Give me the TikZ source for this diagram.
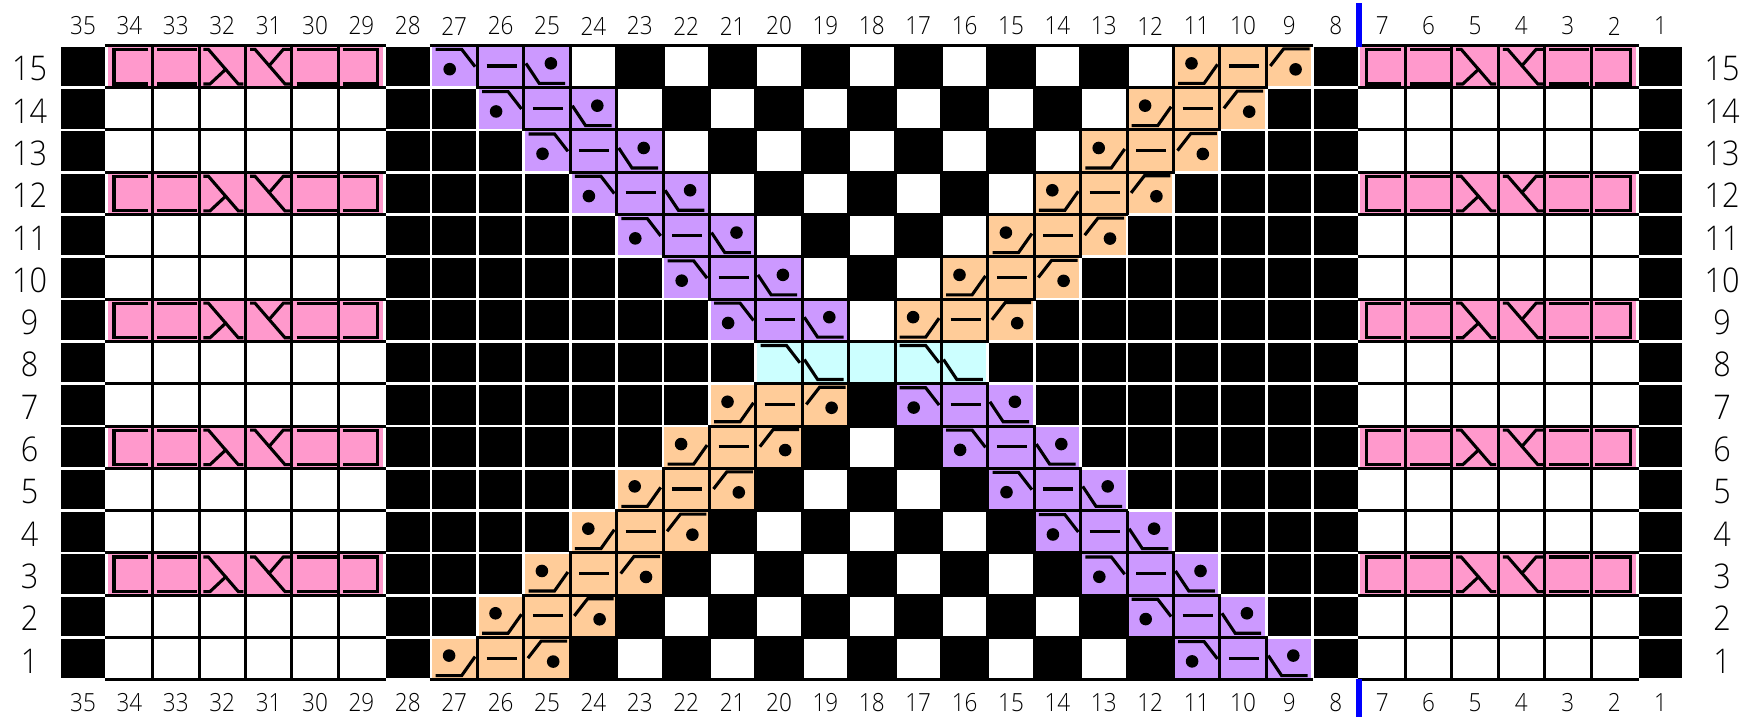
\documentclass[tikz,border=0pt]{standalone}
\usepackage{fontspec}
\setmainfont{Open Sans Light}[FakeStretch=0.9]
\definecolor{pinkc}{HTML}{FF99CC}
\definecolor{purplec}{HTML}{CC99FF}
\definecolor{orangec}{HTML}{FFCC99}
\definecolor{cyanc}{HTML}{CCFFFF}
\newcount\ctype \newcount\tc \newcount\tr
% cell kinds: 0 outer black, 1 white, 2 pink, 3 purple, 4 orange, 5 cyan, 6 black of the chequered centre
\def\inrange#1#2#3{\ifnum\tc<\numexpr#1\relax\else\ifnum\tc>\numexpr#2\relax\else#3\fi\fi}
\def\groupT{\ctype=1\relax\ifnum\numexpr3*(\tr/3)\relax=\tr\ctype=2\relax\fi}
\def\centerT{%
  \ifnum\tr>8
    \inrange{10+\tr}{12+\tr}{\ctype=3\relax}%
    \inrange{24-\tr}{26-\tr}{\ctype=4\relax}%
    \inrange{27-\tr}{9+\tr}{\ifodd\numexpr\tc+\tr\relax\ctype=1\relax\else\ctype=6\relax\fi}%
  \else\ifnum\tr=8
    \inrange{16}{20}{\ctype=5\relax}%
  \else
    \inrange{8+\tr}{10+\tr}{\ctype=3\relax}%
    \inrange{26-\tr}{28-\tr}{\ctype=4\relax}%
    \inrange{11+\tr}{25-\tr}{\ifodd\numexpr\tc+\tr\relax\ctype=6\relax\else\ctype=1\relax\fi}%
  \fi\fi}
\def\gettype#1#2{\tc=#1\relax\tr=#2\relax\ctype=0\relax
  \ifnum\tc>28 \ifnum\tc<35 \groupT\fi\fi
  \ifnum\tc>1 \ifnum\tc<8 \groupT\fi\fi
  \ifnum\tc>8 \ifnum\tc<28 \centerT\fi\fi}
\def\setcell#1#2{\pgfmathsetmacro\cx{61.2+(35-#1)*46.4}\pgfmathsetmacro\cy{-(46.67+(15-#2)*42.3)}}
\tikzset{
  x=1pt,y=1pt,
  sym/.style={line width=3.1pt,line cap=butt,line join=miter,black},
  gridline/.style={line width=3pt,black},
  toplabel/.style={font=\fontsize{25}{27}\selectfont,text=black,inner sep=0pt},
  rowlabel/.style={font=\fontsize{34}{36}\selectfont,text=black,inner sep=0pt},
  dotmark/.style={black},
  midbar/.pic={\draw[sym] (7.7,-19.3) -- (37.7,-19.3);},
  fallL/.pic={\draw[sym] (3.3,-2.7) -- (29.3,-2.7) -- (42.7,-20);},
  fallR/.pic={\draw[sym] (0.7,-16.7) -- (14,-36.7) -- (40,-36.7);},
  riseL/.pic={\draw[sym] (3.3,-36.7) -- (29.3,-36.7) -- (42.7,-17.7);},
  riseR/.pic={\draw[sym] (2.7,-19.3) -- (16,-2.2) -- (42,-2.2);},
  pinkA/.pic={\draw[sym] (40.7,-2.7) -- (6.4,-2.7) -- (6.4,-37.3) -- (40.7,-37.3);},
  pinkB/.pic={\draw[sym] (3.4,-2.7) -- (43.4,-2.7); \draw[sym] (3.4,-37.3) -- (43.4,-37.3);},
  pinkC/.pic={\draw[sym] (3,-2.7) -- (8,-2.7) -- (37.9,-37.3) -- (42.9,-37.3); \draw[sym] (3,-37.3) -- (9.6,-37.3) -- (26.3,-21.7);},
  pinkD/.pic={\draw[sym] (3.2,-2.7) -- (8.2,-2.7) -- (38.2,-37.3) -- (43.2,-37.3); \draw[sym] (43.2,-2.7) -- (36.5,-2.7) -- (21.5,-20);},
  pinkE/.pic={\draw[sym] (3,-2.7) -- (37.7,-2.7) -- (37.7,-37.3) -- (3,-37.3);},
}
\begin{document}
\begin{tikzpicture}
\useasboundingbox (0,0) rectangle (1746,-717);
\fill[white] (0,0) rectangle (1746,-717);
% cells
\foreach \c in {1,...,35}{\foreach \r in {1,...,15}{%
  \gettype{\c}{\r}\setcell{\c}{\r}%
  \ifcase\ctype
    \def\cc{black}\or\def\cc{white}\or\def\cc{pinkc}\or\def\cc{purplec}\or\def\cc{orangec}\or\def\cc{cyanc}\or\def\cc{black}\fi
  \fill[\cc] (\cx,\cy) rectangle ++(43.6,-39.6);
}}
% grid lines between two neighbouring cells that are not outer black
\foreach \c in {1,...,34}{\foreach \r in {1,...,15}{%
  \gettype{\c}{\r}\edef\ta{\the\ctype}%
  \pgfmathtruncatemacro\cn{\c+1}\gettype{\cn}{\r}\edef\tb{\the\ctype}%
  \setcell{\c}{\r}%
  \ifnum\ta>0 \ifnum\tb>0
    \draw[gridline] (\cx-1.4,\cy+1.35) -- (\cx-1.4,\cy-40.95);
  \fi\fi
}}
\foreach \c in {1,...,35}{\foreach \r in {2,...,15}{%
  \gettype{\c}{\r}\edef\ta{\the\ctype}%
  \pgfmathtruncatemacro\rn{\r-1}\gettype{\c}{\rn}\edef\tb{\the\ctype}%
  \setcell{\c}{\r}%
  \ifnum\ta>0 \ifnum\tb>0
    \draw[gridline] (\cx-2.8,\cy-40.95) -- (\cx+46.4,\cy-40.95);
  \fi\fi
}}
% outer top and bottom lines
\foreach \y in {-45.3,-679.85}{
  \draw[gridline] (104.8,\y) -- (386,\y);
  \draw[gridline] (429.6,\y) -- (1313.4,\y);
  \draw[gridline] (1357.6,\y) -- (1638.8,\y);
}
% diagonal bands, symbols
\foreach \c in {1,...,35}{\foreach \r in {1,...,15}{%
  \gettype{\c}{\r}\setcell{\c}{\r}%
  \ifnum\ctype=3
    \ifnum\r>8 \pgfmathtruncatemacro\p{\c-10-\r}\else\pgfmathtruncatemacro\p{\c-8-\r}\fi
    \ifcase\p
      \pic at (\cx,\cy) {fallR}; \fill[dotmark] (\cx+25.7,\cy-16.7) circle (6.3);
    \or \pic at (\cx,\cy) {midbar};
    \or \pic at (\cx,\cy) {fallL}; \fill[dotmark] (\cx+17.3,\cy-22.5) circle (6.3);
    \fi
  \fi
  \ifnum\ctype=4
    \ifnum\r>8 \pgfmathtruncatemacro\p{\c-24+\r}\else\pgfmathtruncatemacro\p{\c-26+\r}\fi
    \ifcase\p
      \pic at (\cx,\cy) {riseR}; \fill[dotmark] (\cx+28,\cy-22.7) circle (6.3);
    \or \pic at (\cx,\cy) {midbar};
    \or \pic at (\cx,\cy) {riseL}; \fill[dotmark] (\cx+16.7,\cy-16.7) circle (6.3);
    \fi
  \fi
}}
% centre row
\setcell{20}{8}\pic at (\cx,\cy) {fallL};
\setcell{19}{8}\pic at (\cx,\cy) {fallR};
\setcell{17}{8}\pic at (\cx,\cy) {fallL};
\setcell{16}{8}\pic at (\cx,\cy) {fallR};
% pink rows
\foreach \r in {3,6,...,15}{
  \foreach \c/\s in {34/pinkA,33/pinkB,32/pinkC,31/pinkD,30/pinkB,29/pinkE,7/pinkA,6/pinkB,5/pinkC,4/pinkD,3/pinkB,2/pinkE}{
    \setcell{\c}{\r}\pic at (\cx,\cy) {\s};
  }
}
% blue marks
\fill[blue] (1356,-3) rectangle (1362,-46.7);
\fill[blue] (1356,-679) rectangle (1362,-717);
% labels
\foreach \c in {1,...,35}{
  \setcell{\c}{1}
  \node[toplabel] (top\c) at (\cx+21.8,-26) {\c};
  \node[toplabel] (bot\c) at (\cx+21.8,-702.7) {\c};
}
\foreach \r in {1,...,15}{
  \setcell{1}{\r}
  \node[rowlabel] (left\r) at (29.5,\cy-22) {\r};
  \node[rowlabel] (right\r) at (1722,\cy-22) {\r};
}
\end{tikzpicture}
\end{document}
